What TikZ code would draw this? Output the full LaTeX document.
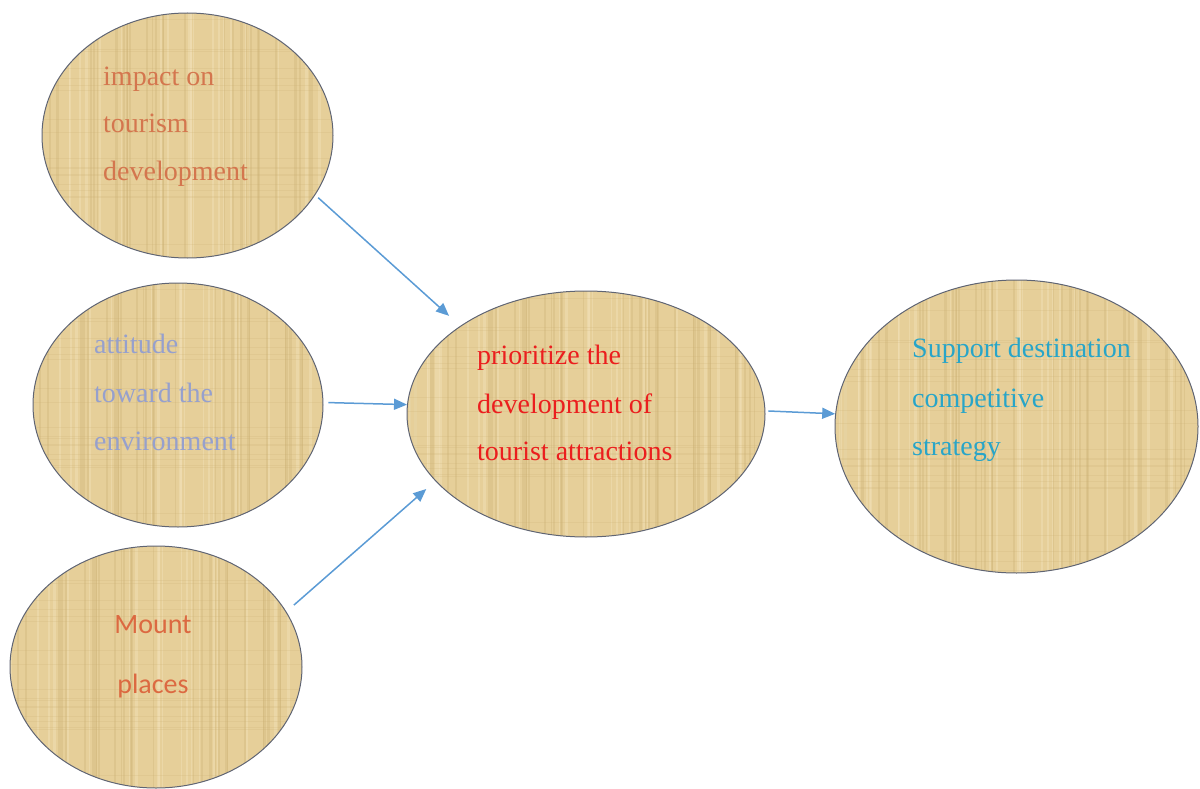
\documentclass[tikz,border=0pt]{standalone}
\usepackage{fontspec}
\setmainfont{Liberation Serif}
\newfontfamily\timesfont{Liberation Serif}
\newfontfamily\calibrifont{Carlito}
\usetikzlibrary{shapes.geometric,arrows.meta}
\definecolor{papyrus}{RGB}{230,207,153}
\definecolor{fiberdark}{RGB}{200,172,110}
\definecolor{fiberlight}{RGB}{243,226,185}
\definecolor{rim}{RGB}{95,100,115}
\definecolor{arrowblue}{RGB}{91,155,213}
\definecolor{txtorange}{RGB}{212,118,78}
\definecolor{txtlav}{RGB}{150,160,205}
\definecolor{txtred}{RGB}{235,30,30}
\definecolor{txtteal}{RGB}{40,165,200}
\definecolor{txtmount}{RGB}{220,105,65}
\begin{document}
\begin{tikzpicture}[x=1pt,y=-1pt,
  bubble/.style={ellipse,draw=rim,line width=1pt,fill=papyrus,inner sep=0pt,
    path picture={
      \pgfmathsetseed{7}
      \foreach \k in {1,...,45}{
        \pgfmathsetmacro{\px}{rnd*400-200}
        \pgfmathsetmacro{\pw}{0.6+rnd*2.2}
        \draw[fiberdark,opacity=0.28,line width=\pw pt]
          ([xshift=\px pt]path picture bounding box.north) -- ([xshift=\px pt]path picture bounding box.south);
      }
      \foreach \k in {1,...,30}{
        \pgfmathsetmacro{\px}{rnd*400-200}
        \pgfmathsetmacro{\pw}{0.8+rnd*2.5}
        \draw[fiberlight,opacity=0.45,line width=\pw pt]
          ([xshift=\px pt]path picture bounding box.north) -- ([xshift=\px pt]path picture bounding box.south);
      }
      \foreach \k in {1,...,25}{
        \pgfmathsetmacro{\py}{rnd*320-160}
        \draw[fiberdark,opacity=0.18,line width=0.8pt]
          ([yshift=\py pt]path picture bounding box.west) -- ([yshift=\py pt]path picture bounding box.east);
      }
    }},
  lbl/.style={anchor=base west,inner sep=0pt,font=\timesfont\fontsize{28}{34}\selectfont},
  mlbl/.style={anchor=base,inner sep=0pt,font=\calibrifont\fontsize{28}{34}\selectfont,text=txtmount},
  flow/.style={draw=arrowblue,line width=1.5pt,-{Triangle[length=13pt,width=11pt]}}]
\useasboundingbox (0,0) rectangle (1200,789);
% ellipses
\node[bubble,minimum width=291pt,minimum height=245pt] (e1) at (187.5,135.5) {};
\node[bubble,minimum width=290pt,minimum height=244pt] (e2) at (178,405) {};
\node[bubble,minimum width=292pt,minimum height=242pt] (e3) at (156,667) {};
\node[bubble,minimum width=358pt,minimum height=246pt] (e4) at (586,414) {};
\node[bubble,minimum width=363pt,minimum height=293pt] (e5) at (1016.5,426.5) {};
% texts
\node[lbl,text=txtorange] (t1a) at (103,86) {impact on};
\node[lbl,text=txtorange] (t1b) at (103,133) {tourism};
\node[lbl,text=txtorange] (t1c) at (103,180) {development};
\node[lbl,text=txtlav] (t2a) at (94,353) {attitude};
\node[lbl,text=txtlav] (t2b) at (94,402) {toward the};
\node[lbl,text=txtlav] (t2c) at (94,450) {environment};
\node[mlbl] (t3a) at (153,633) {Mount};
\node[mlbl] (t3b) at (153,693) {places};
\node[lbl,text=txtred] (t4a) at (477,364) {prioritize the};
\node[lbl,text=txtred] (t4b) at (477,413) {development of};
\node[lbl,text=txtred] (t4c) at (477,460) {tourist attractions};
\node[lbl,text=txtteal] (t5a) at (912,357) {Support destination};
\node[lbl,text=txtteal] (t5b) at (912,407) {competitive};
\node[lbl,text=txtteal] (t5c) at (912,455) {strategy};
% connectors
\draw[flow,shorten <=4pt,shorten >=15pt] (e1.-25) -- (e4.145);
\draw[flow,shorten <=5pt] (e2.1) -- (e4.177);
\draw[flow,shorten <=10pt,shorten >=12pt] (e3.23) -- (e4.204.5);
\draw[flow,shorten <=3pt] (e4.1) -- (e5.176);
\end{tikzpicture}
\end{document}
